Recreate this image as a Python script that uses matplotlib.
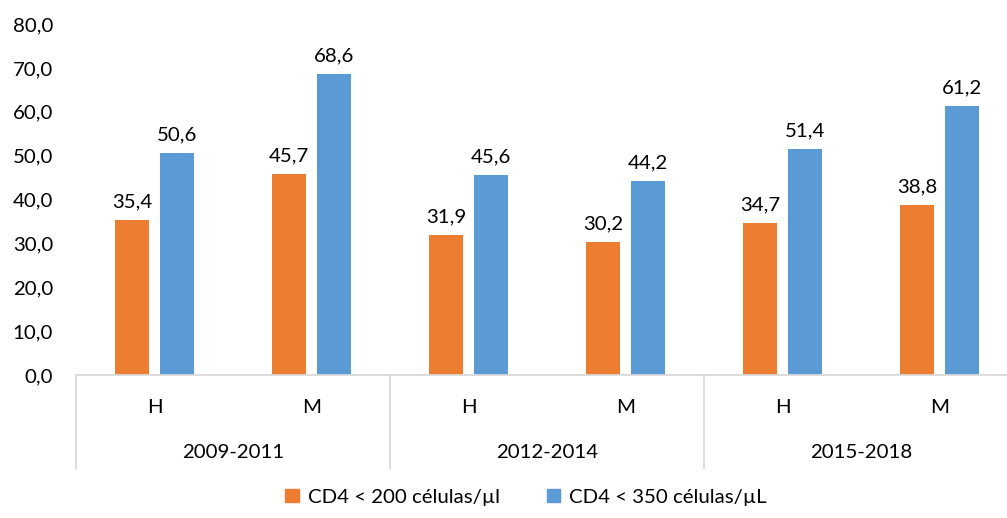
import matplotlib
matplotlib.use("Agg")
import matplotlib.pyplot as plt
from matplotlib.lines import Line2D
import numpy as np

groups = ["2009-2011", "2012-2014", "2015-2018"]
sexes = ["H", "M"]
series_names = ["CD4 < 200 células/µl", "CD4 < 350 células/µL"]
cd4_200 = [35.4, 45.7, 31.9, 30.2, 34.7, 38.8]
cd4_350 = [50.6, 68.6, 45.6, 44.2, 51.4, 61.2]
colors = ["#ED7D31", "#5B9BD5"]
yticks = [0, 10, 20, 30, 40, 50, 60, 70, 80]

plt.rcParams['font.family'] = ['Lato', 'DejaVu Sans']
FS = 14.7

W, H = 1007, 518
fig = plt.figure(figsize=(W / 100, H / 100), dpi=100)
left, right, top, bottom = 76, 1018, 24, 375
ax = fig.add_axes([left / W, 1 - bottom / H, (right - left) / W, (bottom - top) / H])

n = len(cd4_200)
x = np.arange(n)
bw = 0.217
off = 0.143
ax.bar(x - off, cd4_200, bw, color=colors[0], label=series_names[0])
ax.bar(x + off, cd4_350, bw, color=colors[1], label=series_names[1])

def fmt(v):
    return f"{v:.1f}".replace(".", ",")

for xi, v in zip(x, cd4_200):
    ax.annotate(fmt(v), (xi - off, v), xytext=(0, 7), textcoords="offset points",
                ha="center", va="bottom", fontsize=FS, color="#000000")
for xi, v in zip(x, cd4_350):
    ax.annotate(fmt(v), (xi + off, v), xytext=(0, 7), textcoords="offset points",
                ha="center", va="bottom", fontsize=FS, color="#000000")

ax.set_xlim(-0.5, n - 0.5)
ax.set_ylim(0, 80)
ax.set_yticks(yticks)
ax.set_yticklabels([fmt(t) for t in yticks], fontsize=FS)
ax.tick_params(axis="y", length=0, pad=16.5)
ax.set_xticks([])
for s in ["top", "right", "left"]:
    ax.spines[s].set_visible(False)
ax.spines["bottom"].set_color("#D9D9D9")
ax.spines["bottom"].set_linewidth(1.3)

trans = ax.get_xaxis_transform()
for i in range(n):
    ax.text(i, -0.092, sexes[i % 2], transform=trans, ha="center", va="center", fontsize=FS)
for g, name in enumerate(groups):
    ax.text(2 * g + 0.5, -0.222, name, transform=trans, ha="center", va="center", fontsize=FS)
for b in range(len(groups) + 1):
    xb = 2 * b - 0.5
    ax.add_line(Line2D([xb, xb], [0, -0.265], transform=trans, color="#D9D9D9",
                       lw=1.3, clip_on=False))

handles = [plt.Rectangle((0, 0), 1, 1, color=c) for c in colors]
fig.legend(handles, series_names, loc="center", bbox_to_anchor=(526 / W, 1 - 497 / H),
           ncol=2, frameon=False, fontsize=FS, handlelength=0.65, handleheight=0.65,
           handletextpad=0.45, columnspacing=2.3)

fig.savefig("out.png", dpi=100)
